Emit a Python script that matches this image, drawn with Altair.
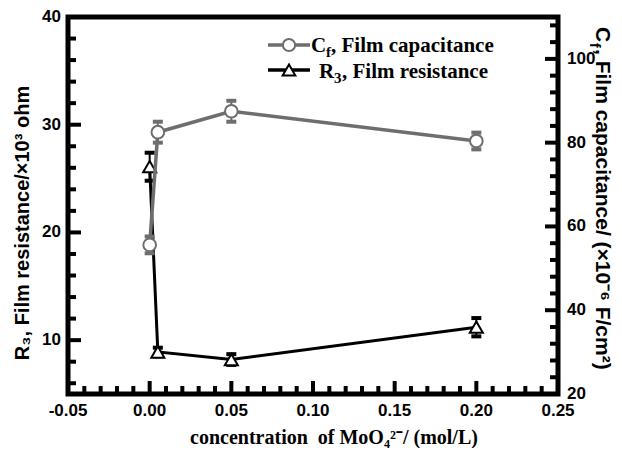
import altair as alt
import pandas as pd

# ---- data ----
conc = [0.0, 0.005, 0.05, 0.20]
cf_vals = [55.6, 82.5, 87.5, 80.4]      # right axis, x10^-6 F/cm2
cf_err = [2.0, 2.5, 2.5, 2.0]
r3_vals = [26.1, 8.9, 8.2, 11.2]        # left axis, x10^3 ohm
r3_err = [1.3, 0.4, 0.5, 0.85]

x_major = [-0.05, 0.0, 0.05, 0.10, 0.15, 0.20, 0.25]
x_labels = ["-0.05", "0.00", "0.05", "0.10", "0.15", "0.20", "0.25"]
x_minor = [-0.04, -0.03, -0.02, -0.01, 0.01, 0.02, 0.03, 0.04, 0.06, 0.07, 0.08, 0.09,
           0.11, 0.12, 0.13, 0.14, 0.16, 0.17, 0.18, 0.19, 0.21, 0.22, 0.23, 0.24]
left_major = [10, 20, 30, 40]
left_labels = ["10", "20", "30", "40"]
left_minor = [6, 8, 12, 14, 16, 18, 22, 24, 26, 28, 32, 34, 36, 38]
right_major = [20, 40, 60, 80, 100]
right_labels = ["20", "40", "60", "80", "100"]
right_minor = [24, 28, 32, 36, 44, 48, 52, 56, 64, 68, 72, 76, 84, 88, 92, 96, 104, 108]

W, H = 490, 377
GRAY = "#6e6e6e"
SANS = "Liberation Sans"
SERIF = "Liberation Serif"

r3_df = pd.DataFrame({"x": conc, "v": r3_vals,
                      "lo": [v - e for v, e in zip(r3_vals, r3_err)],
                      "hi": [v + e for v, e in zip(r3_vals, r3_err)]})
cf_df = pd.DataFrame({"x": conc, "v": cf_vals,
                      "lo": [v - e for v, e in zip(cf_vals, cf_err)],
                      "hi": [v + e for v, e in zip(cf_vals, cf_err)]})

xs = alt.Scale(domain=[-0.05, 0.25], nice=False, zero=False)
yl = alt.Scale(domain=[5, 40], nice=False, zero=False)
yr = alt.Scale(domain=[20, 110], nice=False, zero=False)

X = alt.X("x:Q", scale=xs, axis=None)
one = pd.DataFrame({"a": [0]})
lab_kw = dict(font=SANS, fontWeight="bold", fontSize=17, color="black")

# ---------------- left (R3) layer ----------------
r3_line = alt.Chart(r3_df).mark_line(color="black", strokeWidth=3).encode(
    x=X, y=alt.Y("v:Q", scale=yl, axis=None))
r3_bar = alt.Chart(r3_df).mark_rule(color="black", strokeWidth=2).encode(
    x=X, y=alt.Y("lo:Q", scale=yl, axis=None), y2="hi:Q")
r3_cap_lo = alt.Chart(r3_df).mark_tick(color="black", orient="horizontal", size=10, thickness=4, opacity=1).encode(
    x=X, y=alt.Y("lo:Q", scale=yl, axis=None))
r3_cap_hi = alt.Chart(r3_df).mark_tick(color="black", orient="horizontal", size=10, thickness=4, opacity=1).encode(
    x=X, y=alt.Y("hi:Q", scale=yl, axis=None))
r3_pts = alt.Chart(r3_df).mark_point(shape="triangle-up", filled=True, fill="white", stroke="black",
                                     strokeWidth=2, size=170, opacity=1).encode(
    x=X, y=alt.Y("v:Q", scale=yl, axis=None))

lmaj = alt.Chart(pd.DataFrame({"t": left_major})).mark_rule(color="black", strokeWidth=4).encode(
    y=alt.Y("t:Q", scale=yl, axis=None), x=alt.value(0), x2=alt.value(13))
lmin = alt.Chart(pd.DataFrame({"t": left_minor})).mark_rule(color="black", strokeWidth=4).encode(
    y=alt.Y("t:Q", scale=yl, axis=None), x=alt.value(0), x2=alt.value(8))
llab = alt.Chart(pd.DataFrame({"t": left_major, "s": left_labels})).mark_text(
    align="right", baseline="middle", **lab_kw).encode(
    y=alt.Y("t:Q", scale=yl, axis=None), x=alt.value(-7), text="s:N")
xmaj = alt.Chart(pd.DataFrame({"t": x_major})).mark_rule(color="black", strokeWidth=4).encode(
    x=alt.X("t:Q", scale=xs, axis=None), y=alt.value(H), y2=alt.value(H - 13))
xmin = alt.Chart(pd.DataFrame({"t": x_minor})).mark_rule(color="black", strokeWidth=4).encode(
    x=alt.X("t:Q", scale=xs, axis=None), y=alt.value(H), y2=alt.value(H - 8))
xlab = alt.Chart(pd.DataFrame({"t": x_major, "s": x_labels})).mark_text(
    align="center", baseline="top", **lab_kw).encode(
    x=alt.X("t:Q", scale=xs, axis=None), y=alt.value(H + 9), text="s:N")

# axis titles
ltitle = alt.Chart(one).mark_text(
    text="R\u2083, Film resistance/\u00d710\u00b3 ohm", angle=270, align="center",
    baseline="alphabetic", font=SANS, fontWeight="bold", fontSize=20, color="black").encode(
    x=alt.value(-39), y=alt.value(206))
xtitle = alt.Chart(one).mark_text(
    text="concentration\u00a0 of MoO\u2084\u00b2\u207b/ (mol/L)", align="center",
    baseline="alphabetic", font=SERIF, fontWeight="bold", fontSize=20, color="black").encode(
    x=alt.value(266), y=alt.value(427))

left = alt.layer(lmaj, lmin, llab, xmaj, xmin, xlab, ltitle, xtitle,
                 r3_line, r3_bar, r3_cap_lo, r3_cap_hi, r3_pts)

# ---------------- right (Cf) layer ----------------
cf_line = alt.Chart(cf_df).mark_line(color=GRAY, strokeWidth=3.5).encode(
    x=X, y=alt.Y("v:Q", scale=yr, axis=None))
cf_bar = alt.Chart(cf_df).mark_rule(color=GRAY, strokeWidth=2).encode(
    x=X, y=alt.Y("lo:Q", scale=yr, axis=None), y2="hi:Q")
cf_cap_lo = alt.Chart(cf_df).mark_tick(color=GRAY, orient="horizontal", size=10, thickness=4, opacity=1).encode(
    x=X, y=alt.Y("lo:Q", scale=yr, axis=None))
cf_cap_hi = alt.Chart(cf_df).mark_tick(color=GRAY, orient="horizontal", size=10, thickness=4, opacity=1).encode(
    x=X, y=alt.Y("hi:Q", scale=yr, axis=None))
cf_pts = alt.Chart(cf_df).mark_point(shape="circle", filled=True, fill="white", stroke=GRAY,
                                     strokeWidth=2, size=160, opacity=1).encode(
    x=X, y=alt.Y("v:Q", scale=yr, axis=None))

rmaj = alt.Chart(pd.DataFrame({"t": right_major})).mark_rule(color="black", strokeWidth=4).encode(
    y=alt.Y("t:Q", scale=yr, axis=None), x=alt.value(W), x2=alt.value(W - 13))
rmin = alt.Chart(pd.DataFrame({"t": right_minor})).mark_rule(color="black", strokeWidth=4).encode(
    y=alt.Y("t:Q", scale=yr, axis=None), x=alt.value(W), x2=alt.value(W - 8))
rlab = alt.Chart(pd.DataFrame({"t": right_major, "s": right_labels})).mark_text(
    align="left", baseline="middle", **lab_kw).encode(
    y=alt.Y("t:Q", scale=yr, axis=None), x=alt.value(W + 9), text="s:N")

# right axis title (with subscript f)
rt_kw = dict(angle=90, align="left", baseline="alphabetic", font=SANS, fontWeight="bold", color="black")
rt1 = alt.Chart(one).mark_text(text="C", fontSize=21, **rt_kw).encode(x=alt.value(528), y=alt.value(10))
rt2 = alt.Chart(one).mark_text(text="f", fontSize=14, **rt_kw).encode(x=alt.value(522), y=alt.value(26))
rt3 = alt.Chart(one).mark_text(text=", Film capacitance/ (\u00d710\u207b\u2076 F/cm\u00b2)", fontSize=21,
                               **rt_kw).encode(x=alt.value(528), y=alt.value(32))

# custom legend
lg_l1 = alt.Chart(one).mark_rule(color=GRAY, strokeWidth=3.5).encode(
    x=alt.value(200), x2=alt.value(242), y=alt.value(28))
lg_p1 = alt.Chart(one).mark_point(shape="circle", filled=True, fill="white", stroke=GRAY,
                                  strokeWidth=2, size=150, opacity=1).encode(x=alt.value(221), y=alt.value(28))
lg_l2 = alt.Chart(one).mark_rule(color="black", strokeWidth=3.5).encode(
    x=alt.value(200), x2=alt.value(242), y=alt.value(53))
lg_p2 = alt.Chart(one).mark_point(shape="triangle-up", filled=True, fill="white", stroke="black",
                                  strokeWidth=2, size=160, opacity=1).encode(x=alt.value(221), y=alt.value(53))
tk = dict(align="left", baseline="alphabetic", font=SERIF, fontWeight="bold", color="black")
lg_t1a = alt.Chart(one).mark_text(text="C", fontSize=21, **tk).encode(x=alt.value(243), y=alt.value(35))
lg_t1b = alt.Chart(one).mark_text(text="f", fontSize=15, **tk).encode(x=alt.value(258), y=alt.value(40))
lg_t1c = alt.Chart(one).mark_text(text=" , Film capacitance", fontSize=21, **tk).encode(x=alt.value(263), y=alt.value(35))
lg_t2a = alt.Chart(one).mark_text(text="R", fontSize=21, **tk).encode(x=alt.value(251), y=alt.value(61))
lg_t2b = alt.Chart(one).mark_text(text="3", fontSize=15, **tk).encode(x=alt.value(266), y=alt.value(66))
lg_t2c = alt.Chart(one).mark_text(text=", Film resistance", fontSize=21, **tk).encode(x=alt.value(274), y=alt.value(61))

right = alt.layer(rmaj, rmin, rlab, cf_line, cf_bar, cf_cap_lo, cf_cap_hi, cf_pts,
                  rt1, rt2, rt3, lg_l1, lg_p1, lg_l2, lg_p2,
                  lg_t1a, lg_t1b, lg_t1c, lg_t2a, lg_t2b, lg_t2c)

chart = alt.layer(left, right).resolve_scale(y="independent").properties(
    width=W, height=H,
    autosize=alt.AutoSizeParams(type="none"),
    padding={"left": 60, "top": 9, "right": 56, "bottom": 54},
    background="white",
).configure_view(stroke="black", strokeWidth=5)

chart.save("out.html", embed_options={"renderer": "svg", "actions": False})
